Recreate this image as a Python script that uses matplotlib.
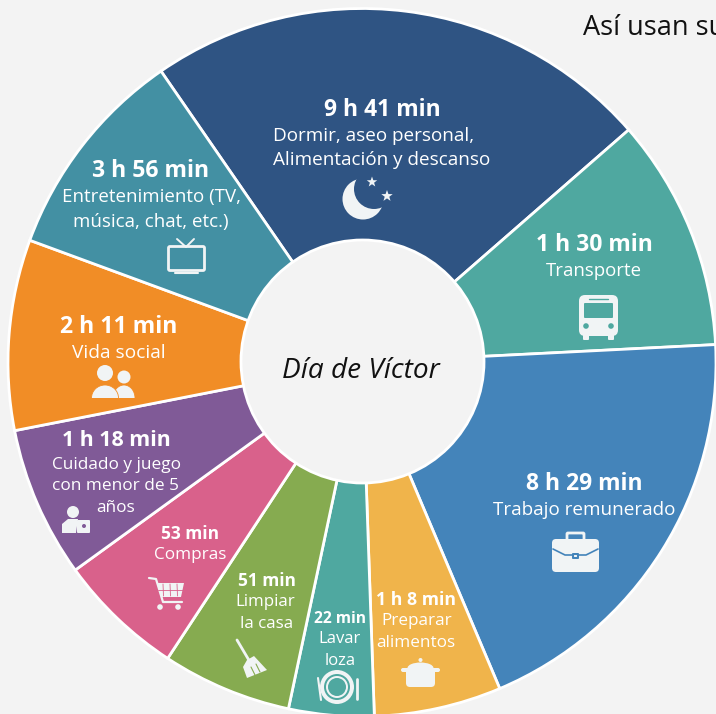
import matplotlib
matplotlib.use('Agg')
import matplotlib.pyplot as plt
from matplotlib.patches import Circle, Rectangle, FancyBboxPatch, Polygon, Ellipse

categories = ['Dormir', 'Transporte', 'Trabajo', 'Preparar', 'Lavar',
              'Limpiar', 'Compras', 'Cuidado', 'Vida social', 'Entretenimiento']
# wedge sizes in degrees (not proportional to the times)
spans = [83.5, 38.2, 70.0, 20.9, 14.0, 21.3, 20.8, 24.8, 31.3, 35.2]
colors = ['#2f5483', '#4fa8a0', '#4484ba', '#f0b44b', '#4fa8a0',
          '#86ab50', '#d9618b', '#805a97', '#f18d26', '#4390a3']
times = ['9 h 41 min', '1 h 30 min', '8 h 29 min', '1 h 8 min', '22 min',
         '51 min', '53 min', '1 h 18 min', '2 h 11 min', '3 h 56 min']

BG = '#f3f3f3'
ICON = '#f1f4f5'
plt.rcParams['font.family'] = ['Open Sans', 'DejaVu Sans']

fig = plt.figure(figsize=(7.16, 7.14), dpi=100, facecolor=BG)
ax = fig.add_axes([0, 0, 1, 1])
ax.pie(spans, colors=colors, startangle=-124.6, counterclock=True, center=(362, 362.5), radius=354,
       wedgeprops=dict(edgecolor='white', linewidth=2))
ax.add_patch(Circle((362.5, 361.5), 121.5, fc=BG, ec='white', lw=2, zorder=3))
ax.set_xlim(0, 716)
ax.set_ylim(714, 0)
ax.set_aspect('equal')
ax.axis('off')


def label(x, y, s, size=13.5, bold=False):
    ax.text(x, y + 2, s, color='white', ha='center', va='center', fontsize=size,
            fontweight='bold' if bold else 'normal', zorder=5)


def box(x, y, w, h, r=2, c=ICON, z=4):
    ax.add_patch(FancyBboxPatch((x + r, y + r), w - 2 * r, h - 2 * r, boxstyle='round,pad=%g' % r,
                                fc=c, ec='none', zorder=z))


def line(xs, ys, lw=1.5, c=ICON, z=4):
    ax.plot(xs, ys, color=c, lw=lw, solid_capstyle='round', zorder=z)


def star(x, y, r):
    pts = []
    for i in range(5):
        pts.append((x + r * STAR_OUT[i][0], y + r * STAR_OUT[i][1]))
        pts.append((x + r * 0.4 * STAR_IN[i][0], y + r * 0.4 * STAR_IN[i][1]))
    ax.add_patch(Polygon(pts, fc=ICON, ec='none', zorder=6))


STAR_OUT = [(0, -1), (0.95, -0.31), (0.59, 0.81), (-0.59, 0.81), (-0.95, -0.31)]
STAR_IN = [(0.59, -0.81), (0.95, 0.31), (0, 1), (-0.95, 0.31), (-0.59, -0.81)]

# labels
label(382, 108, times[0], 16.5, True)
ax.text(273, 136, 'Dormir, aseo personal,', color='white', va='center', fontsize=13.6, zorder=5)
ax.text(273, 160, 'Alimentación y descanso', color='white', va='center', fontsize=13.6, zorder=5)
label(594, 243, times[1], 16.5, True)
label(594, 269, 'Transporte', 13.4)
label(584, 482, times[2], 16.5, True)
label(584, 508, 'Trabajo remunerado', 13.6)
label(416, 598, times[3], 12.7, True)
label(417, 619, 'Preparar', 12.3)
label(416, 641, 'alimentos', 12.3)
label(340, 617, times[4], 11.2, True)
label(340, 637, 'Lavar', 12)
label(340, 659, 'loza', 12)
label(267, 579, times[5], 12.4, True)
label(265, 600, 'Limpiar', 12.2)
label(267, 622, 'la casa', 12.2)
label(190, 532, times[6], 12.5, True)
label(190, 553, 'Compras', 12.3)
label(116, 438, times[7], 15.4, True)
label(116, 463, 'Cuidado y juego', 12.4)
label(116, 484, 'con menor de 5', 12.4)
label(116, 506, 'años', 12.4)
label(119, 325, times[8], 16.6, True)
label(119, 351, 'Vida social', 13.8)
label(151, 169, times[9], 16.6, True)
label(151, 195, 'Entretenimiento (TV,', 13.5)
label(151, 220, 'música, chat, etc.)', 13.5)

ax.text(361, 371, 'Día de Víctor', color='#111111', ha='center', va='center', fontsize=20.2,
        fontstyle='italic', zorder=5)
ax.text(583, 28, 'Así usan su', color='#111111', va='center', fontsize=19.5, zorder=5)

# moon
ax.add_patch(Circle((363, 199), 20.5, fc=ICON, ec='none', zorder=4))
ax.add_patch(Circle((374, 189), 20, fc=colors[0], ec='none', zorder=5))
star(372, 182, 5.5)
star(387, 196, 6)

# bus
box(579, 295, 39, 41, 6)
box(584, 303, 29, 15, 1, colors[1], 5)
line([589, 608], [298.5, 298.5], 1, colors[1], 5)
box(583, 334, 6, 6, 1)
box(608, 334, 6, 6, 1)
ax.add_patch(Circle((586, 326), 2.8, fc=colors[1], ec='none', zorder=5))
ax.add_patch(Circle((611, 326), 2.8, fc=colors[1], ec='none', zorder=5))

# briefcase
box(552, 539, 47, 33, 4)
ax.add_patch(FancyBboxPatch((568, 534), 15, 7, boxstyle='round,pad=1', fc='none', ec=ICON, lw=2, zorder=4))
line([553, 565, 586, 598], [549, 555, 555, 549], 1.2, colors[2], 5)
box(572, 553, 7, 6, 1, colors[2], 5)
box(574, 555, 3, 2, 0.5, ICON, 6)

# pot
box(406, 668, 29, 19, 4)
box(401, 668, 39, 4, 2)
ax.add_patch(Ellipse((420.5, 668), 26, 11, fc=ICON, ec='none', zorder=4))
ax.add_patch(Circle((420.5, 660), 2, fc=ICON, ec='none', zorder=4))

# plate and fork
ax.add_patch(Circle((337, 687), 17, fc=ICON, ec='none', zorder=4))
ax.add_patch(Circle((337, 687), 13, fc=colors[4], ec='none', zorder=5))
ax.add_patch(Circle((337, 687), 11, fc=ICON, ec='none', zorder=6))
ax.add_patch(Circle((337, 687), 9, fc=colors[4], ec='none', zorder=7))
line([357, 357], [679, 699], 2)
line([318, 321], [678, 700], 1.5)

# broom
line([237, 250], [640, 662], 2)
ax.add_patch(Polygon([(247, 660), (254, 656), (267, 670), (247, 678), (243, 667)],
                     fc=ICON, ec='none', zorder=4))
line([251, 255], [667, 675], 0.8, colors[5], 5)
line([256, 260], [664, 672], 0.8, colors[5], 5)

# cart
line([149, 156, 163, 182], [578, 579, 602, 602], 1.6)
ax.add_patch(Polygon([(157, 583), (184, 583), (181, 597), (161, 597)], fc=ICON, ec='none', zorder=4))
for gx in [163, 170, 177]:
    line([gx, gx + 0.5], [584, 596], 0.6, colors[6], 5)
line([158, 183], [590, 590], 0.6, colors[6], 5)
ax.add_patch(Circle((160, 607), 2.8, fc=ICON, ec='none', zorder=4))
ax.add_patch(Circle((178, 607), 2.8, fc=ICON, ec='none', zorder=4))

# person with box
ax.add_patch(Circle((73, 512), 6, fc=ICON, ec='none', zorder=4))
ax.add_patch(Polygon([(62, 533), (62, 524), (68, 519), (78, 519), (76, 533)], fc=ICON, ec='none', zorder=4))
box(77, 520, 13, 13, 1)
ax.add_patch(Circle((84, 526), 2, fc=colors[7], ec='none', zorder=5))

# two people, bodies cut flat at the bottom
ax.add_patch(Circle((105, 373), 8, fc=ICON, ec='none', zorder=5))
ax.add_patch(Circle((124, 377), 6.5, fc=ICON, ec='none', zorder=4))
people_clip = Rectangle((85, 380), 55, 18, transform=ax.transData)
for cx, w in [(105, 27), (124, 22)]:
    body = Ellipse((cx, 398), w, 26, fc=ICON, ec=colors[8], lw=0.6, zorder=5 if cx == 105 else 4)
    ax.add_patch(body)
    body.set_clip_path(people_clip)

# tv
ax.add_patch(FancyBboxPatch((170, 248), 33, 21, boxstyle='round,pad=1.5', fc='none', ec=ICON, lw=2, zorder=4))
line([177, 186, 194], [239, 247, 239], 1.4)
box(172, 250, 24, 17, 3, colors[9], 5)
line([197, 197], [252, 267], 1.5, colors[9], 5)
line([175, 198], [273, 273], 1.5)

fig.savefig('out.png', dpi=100, facecolor=BG)
